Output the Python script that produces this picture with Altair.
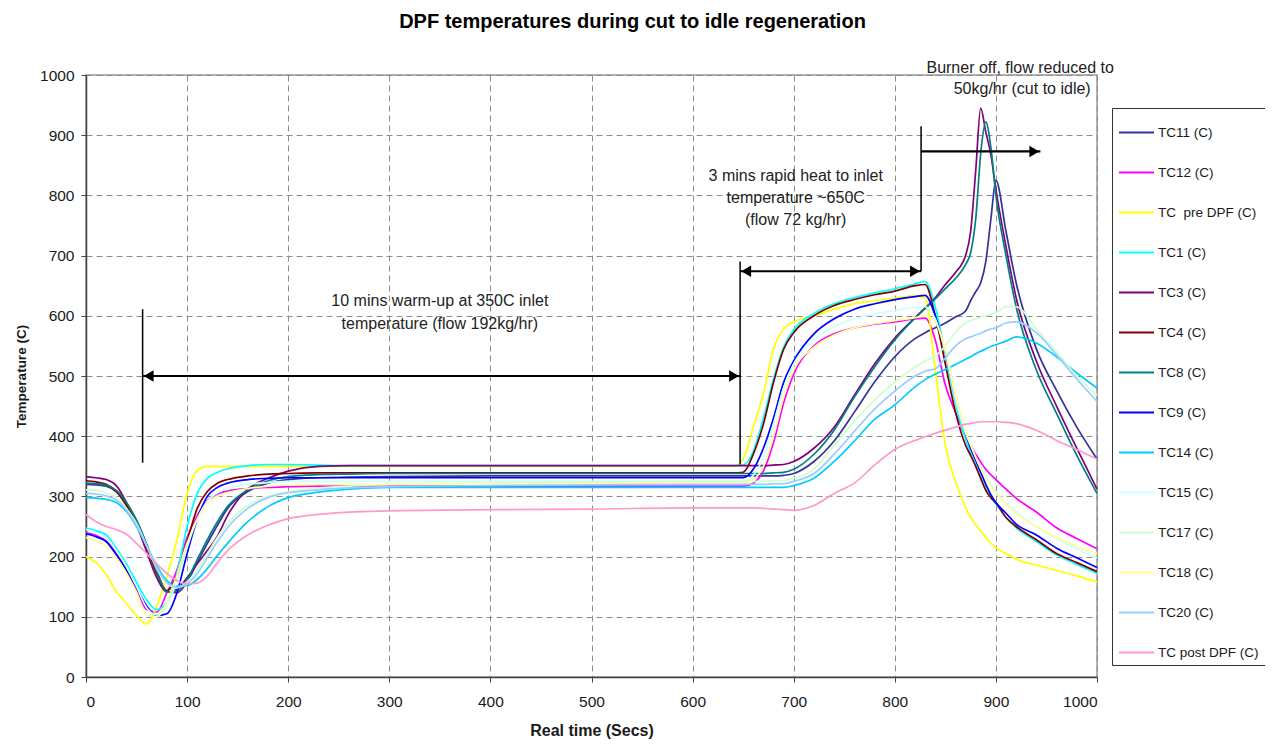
import altair as alt
import pandas as pd

FONT = "Liberation Sans"

# time samples (s)
T = [0, 10, 20, 30, 40, 50, 60, 70, 80, 90, 100, 110, 120, 130, 140,
     160, 180, 200, 230, 260, 300,
     400, 500, 600, 640,
     650, 660, 670, 680, 690, 700,
     720, 740, 760, 780, 800,
     820, 830, 840, 850, 860, 870,
     875, 880, 885, 890, 895, 900,
     910, 920, 940, 960, 980, 1000]

series_names = ["TC11 (C)", "TC12 (C)", "TC\u00a0 pre DPF (C)", "TC1 (C)", "TC3 (C)",
                "TC4 (C)", "TC8 (C)", "TC9 (C)", "TC14 (C)", "TC15 (C)",
                "TC17 (C)", "TC18 (C)", "TC20 (C)", "TC post DPF (C)"]
series_colors = ["#333399", "#FF00FF", "#FFFF00", "#00FFFF", "#800080",
                 "#800000", "#008080", "#0000FF", "#00CCFF", "#CCFFFF",
                 "#CCFFCC", "#FFFF99", "#99CCFF", "#FF99CC"]

TC11 = [320, 319, 317, 308, 288, 260, 220, 176, 142, 140, 158, 190, 222, 252, 280,
        308, 322, 328, 331, 332, 333,
        334, 334, 334, 334,
        334, 334, 334, 334, 335, 338,
        358, 392, 440, 490, 532,
        562, 572, 580, 588, 598, 608,
        625, 640, 655, 690, 760, 825,
        740, 655, 545, 476, 415, 362]
TC12 = [240, 235, 226, 205, 178, 146, 112, 108, 140, 178, 232, 268, 293, 304, 309,
        313, 315, 316, 317, 317, 317,
        317, 317, 317, 317,
        317, 322, 342, 389, 455, 503,
        550, 570, 580, 586, 590,
        595, 596, 560, 485, 440, 400,
        385, 370, 357, 345, 336, 328,
        312, 297, 274, 248, 230, 213]
TC_pre = [200, 190, 170, 142, 122, 102, 88, 118, 168, 228, 305, 343, 350, 350, 350,
          350, 350, 350, 350, 350, 350,
          350, 350, 350, 350,
          362, 415, 470, 545, 578, 590,
          600, 611, 620, 625, 629,
          633, 630, 510, 385, 325, 282,
          265, 253, 242, 232, 222, 215,
          205, 196, 186, 177, 168, 158]
TC1 = [248, 243, 236, 214, 188, 157, 128, 112, 125, 173, 250, 305, 330, 340, 346,
       351, 353, 353, 352, 351, 351,
       351, 351, 351, 351,
       352, 375, 430, 495, 548, 577,
       604, 620, 630, 638, 645,
       653, 657, 615, 535, 455, 395,
       372, 352, 330, 313, 298, 288,
       265, 248, 225, 203, 187, 172]
TC3 = [333, 331, 328, 318, 290, 253, 208, 165, 141, 146, 165, 188, 210, 234, 268,
       312, 330, 342, 350, 351, 351,
       351, 351, 351, 351,
       351, 351, 351, 352, 353, 358,
       380, 415, 468, 520, 563,
       597, 613, 630, 652, 672, 700,
       740, 840, 945, 905, 868, 810,
       715, 630, 525, 450, 380, 312]
TC4 = [326, 324, 320, 308, 285, 255, 215, 172, 143, 170, 225, 280, 308, 322, 328,
       334, 337, 338, 339, 339, 339,
       339, 339, 339, 339,
       340, 370, 420, 489, 544, 572,
       600, 617, 627, 635, 641,
       650, 652, 600, 520, 440, 385,
       368, 350, 330, 310, 298, 289,
       265, 250, 228, 205, 190, 175]
TC8 = [322, 321, 319, 310, 290, 260, 220, 175, 141, 143, 162, 195, 228, 258, 283,
       311, 326, 333, 336, 337, 338,
       338, 338, 338, 338,
       338, 338, 338, 339, 340, 345,
       370, 410, 465, 515, 560,
       596, 612, 628, 645, 662, 685,
       705, 760, 870, 922, 880, 800,
       700, 615, 510, 438, 368, 305]
TC9 = [238, 233, 225, 203, 178, 148, 118, 102, 105, 140, 205, 262, 300, 315, 322,
       328, 330, 331, 331, 331, 331,
       331, 331, 331, 331,
       331, 345, 380, 430, 489, 525,
       570, 595, 611, 620, 627,
       632, 634, 600, 540, 465, 405,
       380, 360, 340, 320, 303, 290,
       272, 254, 236, 214, 198, 182]
TC14 = [298, 297, 295, 290, 275, 250, 218, 185, 160, 151, 152, 162, 180, 202, 222,
        258, 283, 298, 307, 312, 315,
        315, 315, 315, 315,
        315, 315, 315, 315, 315, 318,
        330, 358, 392, 428, 452,
        482, 494, 503, 511, 519, 528,
        532, 537, 541, 545, 549, 552,
        558, 565, 555, 532, 505, 480]
TC15 = [245, 240, 231, 210, 183, 150, 115, 103, 118, 160, 215, 262, 292, 306, 313,
        320, 323, 325, 325, 325, 325,
        325, 325, 325, 325,
        325, 335, 365, 420, 480, 520,
        560, 582, 595, 603, 609,
        614, 615, 595, 540, 462, 405,
        385, 365, 348, 333, 320, 308,
        290, 275, 250, 230, 213, 198]
TC17 = [311, 310, 306, 298, 280, 255, 218, 180, 155, 148, 158, 178, 205, 232, 255,
        285, 300, 308, 314, 317, 320,
        322, 324, 325, 325,
        325, 325, 325, 326, 326, 330,
        345, 385, 425, 460, 490,
        515, 525, 533, 550, 573, 588,
        592, 595, 598, 600, 603, 605,
        615, 615, 578, 540, 500, 468]
TC18 = [232, 226, 217, 198, 172, 140, 103, 100, 125, 170, 222, 262, 288, 300, 306,
        313, 317, 319, 320, 320, 320,
        321, 321, 322, 322,
        322, 328, 350, 400, 465, 510,
        548, 568, 580, 587, 592,
        597, 600, 590, 545, 470, 410,
        387, 365, 346, 330, 316, 305,
        288, 272, 250, 232, 217, 205]
TC20 = [305, 304, 301, 294, 277, 252, 218, 182, 157, 149, 155, 172, 198, 225, 248,
        280, 298, 306, 311, 314, 316,
        318, 319, 320, 320,
        320, 320, 320, 321, 321, 325,
        338, 370, 408, 445, 475,
        500, 508, 512, 530, 550, 562,
        565, 568, 571, 575, 578, 580,
        588, 590, 572, 535, 495, 458]
TC_post = [270, 258, 250, 245, 237, 222, 205, 188, 172, 160, 155, 156, 168, 190, 210,
           236, 252, 263, 270, 274, 276,
           278, 279, 281, 281,
           281, 281, 280, 279, 278, 277,
           285, 305, 322, 352, 378,
           393, 399, 405, 410, 415, 420,
           421, 423, 424, 424, 424, 424,
           423, 421, 410, 393, 378, 362]

all_series = [TC11, TC12, TC_pre, TC1, TC3, TC4, TC8, TC9,
              TC14, TC15, TC17, TC18, TC20, TC_post]

rows = []
for i, (name, vals) in enumerate(zip(series_names, all_series)):
    for t, v in zip(T, vals):
        rows.append({"series": name, "t": t, "temp": v, "k": i})
df = pd.DataFrame(rows)

# annotations (data coordinates)
ann_text = ["10 mins warm-up at 350C inlet", "temperature (flow 192kg/hr)",
            "3 mins rapid heat to inlet", "temperature ~650C", "(flow 72 kg/hr)",
            "Burner off, flow reduced to", "50kg/hr (cut to idle)"]
ann_t = [350, 350, 702, 702, 702, 924, 926]
ann_temp = [624, 586, 832, 795, 759, 1012, 976]

rule_t = [56, 56, 647, 647, 826, 826]
rule_t2 = [56, 647, 647, 826, 826, 944]
rule_temp = [356, 500, 353, 674, 674, 873]
rule_temp2 = [611, 500, 690, 674, 915, 873]
rule_w = [1.5, 2.2, 1.5, 2.2, 1.5, 2.2]

head_t = [62, 641, 653, 820, 938]
head_temp = [500, 500, 674, 674, 873]
head_shape = ["triangle-left", "triangle-right", "triangle-left", "triangle-right", "triangle-right"]

ann_df = pd.DataFrame({"t": ann_t, "temp": ann_temp, "label": ann_text})
rule_df = pd.DataFrame({"t": rule_t, "t2": rule_t2, "temp": rule_temp, "temp2": rule_temp2, "w": rule_w})
head_df = pd.DataFrame({"t": head_t, "temp": head_temp, "shape": head_shape})

xscale = alt.Scale(domain=[0, 1000], nice=False, zero=False)
yscale = alt.Scale(domain=[0, 1000], nice=False, zero=False)
XT = "Real time (Secs)"
YT = "Temperature (C)"

xaxis = alt.Axis(values=list(range(0, 1001, 100)), title=XT, format="d",
                 grid=True, gridDash=[6, 4], gridColor="#8c8c8c", gridWidth=1,
                 tickSize=5, tickColor="#444", domainColor="#444", domainWidth=1.5,
                 labelFont=FONT, labelFontSize=15.5, labelColor="#1a1a1a", labelPadding=12,
                 titleFont=FONT, titleFontSize=16, titleFontWeight="bold",
                 titleColor="#1a1a1a", titlePadding=13)
yaxis = alt.Axis(values=list(range(0, 1001, 100)), title=YT, format="d",
                 grid=True, gridDash=[6, 4], gridColor="#8c8c8c", gridWidth=1,
                 tickSize=5, tickColor="#444", domainColor="#444", domainWidth=1.5,
                 labelFont=FONT, labelFontSize=15.5, labelColor="#1a1a1a", labelPadding=7,
                 titleFont=FONT, titleFontSize=13.5, titleFontWeight="bold",
                 titleColor="#1a1a1a", titlePadding=11)

lines = alt.Chart(df).mark_line(strokeWidth=1.7, interpolate="monotone").encode(
    x=alt.X("t:Q", scale=xscale, axis=xaxis),
    y=alt.Y("temp:Q", scale=yscale, axis=yaxis),
    color=alt.Color("series:N", sort=series_names, title=None,
                    scale=alt.Scale(domain=series_names, range=series_colors),
                    legend=alt.Legend(orient="none", legendX=1026, legendY=33,
                                      symbolType="stroke", symbolSize=1225,
                                      symbolStrokeWidth=2, strokeColor="#333",
                                      fillColor="#ffffff", padding=6, rowPadding=15,
                                      labelFont=FONT, labelFontSize=13.5,
                                      labelColor="#1a1a1a", labelOffset=3,
                                      labelLimit=200)),
    order=alt.Order("k:Q"),
)

rules = alt.Chart(rule_df).mark_rule(color="#000").encode(
    x=alt.X("t:Q", scale=xscale, title=XT), x2="t2:Q",
    y=alt.Y("temp:Q", scale=yscale, title=YT), y2="temp2:Q",
    strokeWidth=alt.StrokeWidth("w:Q", scale=None),
)

heads = alt.Chart(head_df).mark_point(filled=True, color="#000", size=130, opacity=1).encode(
    x=alt.X("t:Q", scale=xscale, title=XT),
    y=alt.Y("temp:Q", scale=yscale, title=YT),
    shape=alt.Shape("shape:N", scale=None),
)

texts = alt.Chart(ann_df).mark_text(font=FONT, fontSize=16, color="#222",
                                     align="center", baseline="middle").encode(
    x=alt.X("t:Q", scale=xscale, title=XT),
    y=alt.Y("temp:Q", scale=yscale, title=YT),
    text="label:N",
)

chart = alt.layer(lines, rules, heads, texts).properties(
    width=1011, height=602,
    padding={"left": 78, "top": 67, "right": 168, "bottom": 62},
    autosize=alt.AutoSizeParams(type="none"),
    title=alt.Title(text="DPF temperatures during cut to idle regeneration",
                    font=FONT, fontSize=20, fontWeight="bold", color="#000",
                    anchor="middle", dx=41, offset=28),
).configure_view(stroke="#999", strokeWidth=1.5)

chart.save("out.html", embed_options={"renderer": "svg", "actions": False})
